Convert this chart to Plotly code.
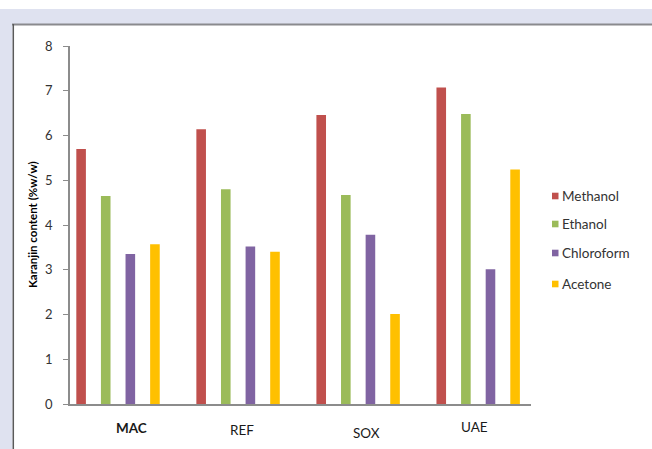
import plotly.graph_objects as go

# Extraction methods and solvents
methods = ["MAC", "REF", "SOX", "UAE"]
methanol = [5.70, 6.14, 6.46, 7.07]
ethanol = [4.65, 4.80, 4.67, 6.48]
chloroform = [3.35, 3.52, 3.78, 3.01]
acetone = [3.57, 3.40, 2.01, 5.24]

solvents = ["Methanol", "Ethanol", "Chloroform", "Acetone"]
colors = ["#C0504D", "#9BBB59", "#8064A2", "#FFC000"]
series = [methanol, ethanol, chloroform, acetone]

W, H = 652, 449
L, R, T, B = 70, 121, 46, 45
PW, PH = W - L - R, H - T - B


def px(x):
    return (x - L) / PW


def py(y):
    return (H - B - y) / PH


fig = go.Figure()
for name, vals, col in zip(solvents, series, colors):
    fig.add_trace(go.Bar(x=methods, y=vals, name=name, marker=dict(color=col, line=dict(width=0)),
                         showlegend=False))

FONT = "Lato, 'Open Sans', sans-serif"

shapes = [
    # lavender frame bands
    dict(type="rect", xref="paper", yref="paper", x0=px(0), x1=px(W), y0=py(24), y1=py(9),
         fillcolor="#dfe2f0", line=dict(width=0), layer="below"),
    dict(type="rect", xref="paper", yref="paper", x0=px(0), x1=px(12.5), y0=py(H), y1=py(24),
         fillcolor="#dfe2f0", line=dict(width=0), layer="below"),
    dict(type="line", xref="paper", yref="paper", x0=px(12), x1=px(W), y0=py(24.5), y1=py(24.5),
         line=dict(color="#8a8a8e", width=2)),
    dict(type="line", xref="paper", yref="paper", x0=px(13.3), x1=px(13.3), y0=py(H), y1=py(24),
         line=dict(color="#5a5a5a", width=1.5)),
]

annotations = [
    dict(text="<b>Karanjin content (%w/w)</b>", xref="paper", yref="paper", x=px(32), y=py(225),
         textangle=-90, showarrow=False, font=dict(family=FONT, size=11.5, color="#000000"),
         xanchor="center", yanchor="middle"),
]

# Category labels below the axis
label_text = ["<b>MAC</b>", "REF", "SOX", "UAE"]
label_dx = [13, 4, 8, -4]
label_y = [428, 430, 433, 427]
for m, t, dx, ly in zip(methods, label_text, label_dx, label_y):
    annotations.append(dict(text=t, xref="x", yref="paper", x=m, y=py(ly), xshift=dx,
                            showarrow=False, xanchor="center", yanchor="middle",
                            font=dict(family=FONT, size=13.5, color="#1a1a1a")))

# Legend entries
legend_y = [196, 224, 253, 284]
for name, col, ly in zip(solvents, colors, legend_y):
    shapes.append(dict(type="rect", xref="paper", yref="paper", x0=px(552), x1=px(558.5),
                       y0=py(ly + 3.3), y1=py(ly - 3.3), fillcolor=col, line=dict(width=0)))
    annotations.append(dict(text=name, xref="paper", yref="paper", x=px(559.5), y=py(ly),
                            showarrow=False, xanchor="left", yanchor="middle",
                            font=dict(family=FONT, size=13.5, color="#333333")))

fig.update_layout(
    width=W, height=H,
    margin=dict(l=L, r=R, t=T, b=B, pad=0),
    paper_bgcolor="white", plot_bgcolor="white",
    barmode="group", bargap=0.18, bargroupgap=0.61,
    shapes=shapes, annotations=annotations,
    showlegend=False,
    font=dict(family=FONT, color="#333333"),
)
fig.update_xaxes(type="category", range=[-0.4, 3.44], showticklabels=False, ticks="",
                 showline=True, linecolor="#8c8c8c", linewidth=1.5, showgrid=False, zeroline=False,
                 fixedrange=True)
fig.update_yaxes(range=[0, 8], dtick=1, showline=True, linecolor="#8c8c8c", linewidth=1.5,
                 ticks="outside", ticklen=5, tickcolor="#8c8c8c", tickwidth=1.2,
                 tickfont=dict(family=FONT, size=13, color="#333333"), ticklabelstandoff=8,
                 showgrid=False, zeroline=False, fixedrange=True)

fig.write_html("out.html")
